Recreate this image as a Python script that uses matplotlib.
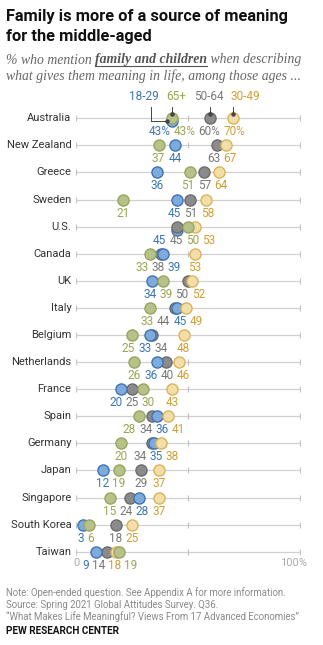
import numpy as np
import matplotlib.pyplot as plt

countries = ["Australia", "New Zealand", "Greece", "Sweden", "U.S.", "Canada", "UK",
             "Italy", "Belgium", "Netherlands", "France", "Spain", "Germany", "Japan",
             "Singapore", "South Korea", "Taiwan"]
age_18_29 = [43, 44, 36, 45, 45, 39, 34, 45, 33, 36, 20, 36, 35, 12, 28, 3, 9]
age_30_49 = [70, 67, 64, 58, 53, 53, 52, 49, 48, 46, 43, 41, 38, 37, 37, 25, 18]
age_50_64 = [60, 63, 57, 51, 45, 38, 50, 44, 34, 40, 25, 34, 34, 29, 24, 18, 14]
age_65 = [43, 37, 51, 21, 50, 33, 39, 33, 25, 26, 30, 28, 20, 19, 15, 6, 19]
groups = ["18-29", "30-49", "50-64", "65+"]

# fill, edge, label colour, draw order
styles = {
    "18-29": ("#7eaadc", "#3e74b5", "#3b76b5", 3),
    "30-49": ("#f1dea9", "#dcb35a", "#d19f33", 4),
    "50-64": ("#8b8b8b", "#6c6c6c", "#787878", 2),
    "65+": ("#b6c289", "#98a660", "#9ba451", 5),
}
series = {"18-29": age_18_29, "30-49": age_30_49, "50-64": age_50_64, "65+": age_65}

W, H = 323, 645
X0, X1 = 76, 300          # pixel span of 0..100
Y0, DY = 118.3, 27.09     # first row, row spacing (px)


def fx(px):
    return px / W


def fy(py):
    return 1 - py / H


def row(py):
    return (py - Y0) / DY


def dx(px):
    return (px - X0) * 100 / (X1 - X0)


plt.rcParams['font.family'] = ['Roboto', 'DejaVu Sans']
fig = plt.figure(figsize=(W / 100, H / 100), dpi=100)
ax = fig.add_axes([fx(X0), fy(580), (X1 - X0) / W, 500 / H])
ax.set_xlim(0, 100)
ax.set_ylim(row(580), row(80))
ax.axis('off')

# title / subtitle
fig.text(fx(6), fy(16), "Family is more of a source of meaning", fontsize=11.8,
         fontweight='bold', va='center', color='#111111')
fig.text(fx(6), fy(37), "for the middle-aged", fontsize=11.8,
         fontweight='bold', va='center', color='#111111')

renderer = fig.canvas.get_renderer()
sub_kw = dict(family='Liberation Serif', style='italic', fontsize=9.9, va='center', color='#666666')
t1 = fig.text(fx(6), fy(60), "% who mention ", **sub_kw)
w1 = t1.get_window_extent(renderer).width
t2 = fig.text(fx(6 + w1), fy(60), "family and children", fontweight='bold',
              **{**sub_kw, 'color': '#555555'})
w2 = t2.get_window_extent(renderer).width
fig.add_artist(plt.Line2D([fx(6 + w1), fx(6 + w1 + w2)], [fy(66), fy(66)],
                          color='#555555', lw=0.8))
fig.text(fx(6 + w1 + w2), fy(60), " when describing", **sub_kw)
fig.text(fx(6), fy(76), "what gives them meaning in life, among those ages ...", **sub_kw)

# rows
for i, c in enumerate(countries):
    ax.plot([0, 100], [i, i], color='#d0d0d0', lw=0.9, zorder=1)
    ax.plot([0, 50, 100], [i, i, i], ls='none', marker='|', ms=5, mew=0.9,
            color='#c4c4c4', zorder=1)
    ax.text(dx(71.5), i, c, ha='right', va='center', fontsize=8, color='#333333')

    vals = {g: series[g][i] for g in groups}
    labels = []
    for g in groups:
        fill, edge, lc, z = styles[g]
        v = vals[g]
        yy = i
        tied = g == "18-29" and any(vals[o] == v for o in groups if o != g)
        if tied:
            yy = i + 3 / DY
            z = 1.5
        ax.scatter([v], [yy], s=64, color=fill, edgecolor=edge, linewidth=1.0, zorder=z)
        txt = f"{v}%" if i == 0 else f"{v}"
        t = ax.text(v, i + 13.5 / DY, txt, ha='center', va='center', fontsize=8.5, color=lc)
        labels.append((v, groups.index(g) if g != "18-29" else -1, t))

    # spread value labels so they don't collide
    labels.sort(key=lambda a: (a[0], a[1]))
    items = []
    for v, _, t in labels:
        w = t.get_window_extent(renderer).width
        items.append([X0 + v * (X1 - X0) / 100, w, t])
    gap = 3.0
    clusters = [[k] for k in range(len(items))]

    def place(cl):
        ws = [items[k][1] for k in cl]
        total = sum(ws) + gap * (len(cl) - 1)
        centre = np.mean([items[k][0] for k in cl])
        start = centre - total / 2
        out = []
        for w in ws:
            out.append(start + w / 2)
            start += w + gap
        return out

    changed = True
    while changed:
        changed = False
        for k in range(len(clusters) - 1):
            a, b = clusters[k], clusters[k + 1]
            pa, pb = place(a), place(b)
            right_a = pa[-1] + items[a[-1]][1] / 2
            left_b = pb[0] - items[b[0]][1] / 2
            if left_b - right_a < gap - 0.01:
                clusters[k] = a + b
                del clusters[k + 1]
                changed = True
                break
    for cl in clusters:
        for k, p in zip(cl, place(cl)):
            t = items[k][2]
            t.set_x(dx(p))

# axis labels
n = len(countries)
ax.text(0, n - 1 + 11.5 / DY, "0", ha='center', va='center', fontsize=8, color='#aaaaaa')
ax.text(dx(293.5), n - 1 + 11.5 / DY, "100%", ha='center', va='center', fontsize=8, color='#aaaaaa')

# legend with leader lines to Australia
leg_px = {"18-29": 144, "65+": 176, "50-64": 209, "30-49": 245}
ly = row(96)
top = row(107)
for g, px in leg_px.items():
    ax.text(dx(px), ly, g, ha='center', va='center', fontsize=8.5, color=styles[g][2])
lc = '#444444'
ax.plot([dx(150.7), dx(150.7), age_18_29[0] - 2.2], [top, row(121.3), row(121.3)],
        color=lc, lw=0.7, zorder=6)
ax.plot([age_18_29[0] - 2.2], [row(121.3)], 'o', ms=2.2, color=lc, zorder=6)
for g in ["65+", "50-64", "30-49"]:
    v = series[g][0]
    ax.plot([v, v], [top, row(114)], color=lc, lw=0.7, zorder=6)
    ax.plot([v], [row(114)], 'o', ms=2.2, color=lc, zorder=6)

# footer
foot_kw = dict(fontsize=6.9, color='#8a8a8a', va='center')
fig.text(fx(6), fy(593), "Note: Open-ended question. See Appendix A for more information.", **foot_kw)
fig.text(fx(6), fy(605), "Source: Spring 2021 Global Attitudes Survey. Q36.", **foot_kw)
fig.text(fx(6), fy(617), "\u201cWhat Makes Life Meaningful? Views From 17 Advanced Economies\u201d", **foot_kw)
fig.text(fx(6), fy(631), "PEW RESEARCH CENTER", fontsize=7.2, fontweight='bold',
         color='#111111', va='center')

fig.savefig("out.png", dpi=100)
